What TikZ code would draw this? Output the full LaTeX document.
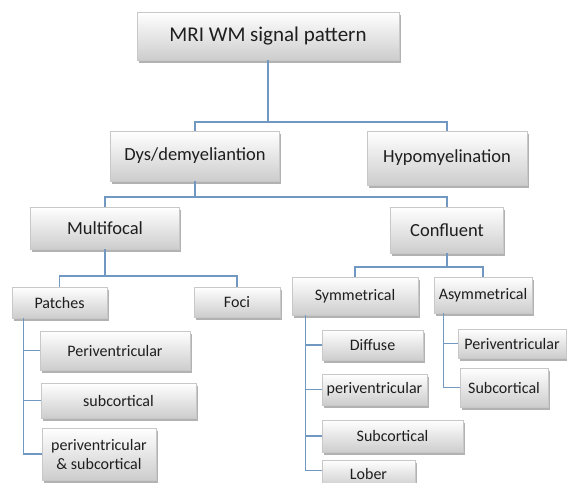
\documentclass[tikz,border=0pt]{standalone}
\usepackage{fontspec}
\setmainfont{Carlito}
\usetikzlibrary{shadows}
\definecolor{conncol}{RGB}{112,152,192}
\definecolor{boxline}{RGB}{200,200,200}
\definecolor{boxbot}{RGB}{205,205,205}
\definecolor{txt}{RGB}{30,30,30}
\tikzset{
  box/.style={rectangle, draw=boxline, line width=0.6pt, inner sep=0pt,
    top color=white, bottom color=boxbot, text=txt, align=center,
    drop shadow={shadow xshift=1.5pt, shadow yshift=-2.5pt, fill=black!50, opacity=0.6}},
  big/.style={box, font=\fontsize{21}{25}\selectfont},
  mid/.style={box, font=\fontsize{18.5}{22}\selectfont},
  small/.style={box, font=\fontsize{16}{19}\selectfont},
  conn/.style={draw=conncol, line width=1.2pt}
}
\begin{document}
\begin{tikzpicture}[x=1pt, y=-1pt]
\clip (0,0) rectangle (567,482);
\fill[white] (0,0) rectangle (567,482);
% level 1
\node[big, minimum width=262pt, minimum height=48pt] (top) at (268,36) {MRI WM signal pattern};
% level 2
\node[mid, minimum width=169pt, minimum height=50pt] (dys) at (195,156) {Dys/demyeliantion};
\node[mid, minimum width=160pt, minimum height=54pt] (hypo) at (447,158) {Hypomyelination};
% level 3
\node[mid, minimum width=149pt, minimum height=42pt] (multi) at (105,228) {Multifocal};
\node[mid, minimum width=113pt, minimum height=46pt] (conf) at (447,230) {Confluent};
% level 4 left
\node[small, minimum width=95pt, minimum height=31pt] (patches) at (59.5,302.5) {Patches};
\node[small, minimum width=86pt, minimum height=30pt] (foci) at (237,302) {Foci};
\node[small, minimum width=150pt, minimum height=39pt] (pv1) at (115,350.5) {Periventricular};
\node[small, minimum width=155pt, minimum height=35pt] (sc1) at (118.5,400.5) {subcortical};
\node[small, minimum width=114pt, minimum height=52pt] (ps) at (99,454) {periventricular\\\& subcortical};
% level 4 right
\node[small, minimum width=126pt, minimum height=38pt] (sym) at (355,296) {Symmetrical};
\node[small, minimum width=98pt, minimum height=36pt] (asym) at (483,295) {Asymmetrical};
\node[small, minimum width=101pt, minimum height=30pt] (diffuse) at (372.5,345) {Diffuse};
\node[small, minimum width=105pt, minimum height=31pt] (pv2) at (374.5,389.5) {periventricular};
\node[small, minimum width=141pt, minimum height=32pt] (sc2) at (392.5,436) {Subcortical};
\node[small, minimum width=93pt, minimum height=27pt] (lober) at (368.5,473.5) {Lober};
\node[small, minimum width=108pt, minimum height=29pt] (pv3) at (512,343.5) {Periventricular};
\node[small, minimum width=88pt, minimum height=39pt] (sc3) at (504,387.5) {Subcortical};
% connectors
\coordinate (j1) at (268,122);
\draw[conn] (top.south) -- (j1);
\draw[conn] (j1) -| (dys.north);
\draw[conn] (j1) -| (hypo.north);
\coordinate (j2) at (195,197);
\draw[conn] (dys.south) -- (j2);
\draw[conn] (j2) -| (multi.north);
\draw[conn] (j2) -| (conf.north);
\coordinate (j3) at (105,276);
\draw[conn] (multi.south) -- (j3);
\draw[conn] (j3) -| (patches.north);
\draw[conn] (j3) -| (foci.north);
\coordinate (j4) at (447,267);
\draw[conn] (conf.south) -- (j4);
\draw[conn] (j4) -| (sym.north);
\draw[conn] (j4) -| (asym.north);
% trunks
\draw[conn] ([xshift=12pt]patches.south west) |- (pv1.west);
\draw[conn] ([xshift=12pt]patches.south west) |- (sc1.west);
\draw[conn] ([xshift=12pt]patches.south west) |- (ps.west);
\draw[conn] ([xshift=14pt]sym.south west) |- (diffuse.west);
\draw[conn] ([xshift=14pt]sym.south west) |- (pv2.west);
\draw[conn] ([xshift=14pt]sym.south west) |- (sc2.west);
\draw[conn] ([xshift=14pt]sym.south west) |- ([yshift=3pt]lober.west);
\draw[conn] ([xshift=10pt]asym.south west) |- (pv3.west);
\draw[conn] ([xshift=10pt]asym.south west) |- (sc3.west);
\end{tikzpicture}
\end{document}
